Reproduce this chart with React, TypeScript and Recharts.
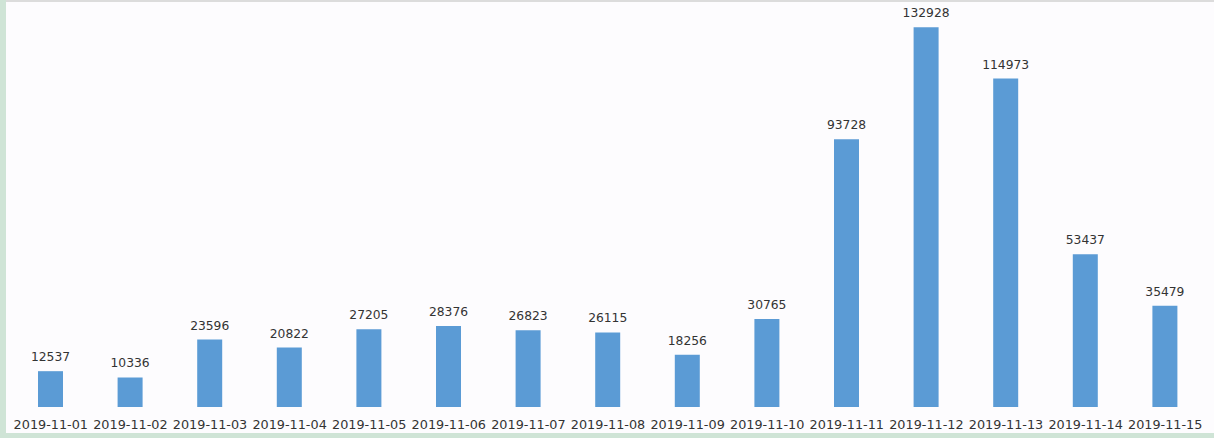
import React from "react";
import { BarChart, Bar, XAxis, YAxis, LabelList } from "recharts";

const dates = [
  "2019-11-01", "2019-11-02", "2019-11-03", "2019-11-04", "2019-11-05",
  "2019-11-06", "2019-11-07", "2019-11-08", "2019-11-09", "2019-11-10",
  "2019-11-11", "2019-11-12", "2019-11-13", "2019-11-14", "2019-11-15",
];
const counts = [
  12537, 10336, 23596, 20822, 27205, 28376, 26823, 26115, 18256, 30765,
  93728, 132928, 114973, 53437, 35479,
];

const data = dates.map((d, i) => ({ date: d, value: counts[i] }));

export default function App() {
  return (
    <div
      style={{
        position: "absolute",
        left: 0,
        top: 0,
        width: 1214,
        height: 438,
        background: "#fdfcfe",
        overflow: "hidden",
        fontFamily: "'DejaVu Sans', sans-serif",
      }}
    >
      <div style={{ position: "absolute", left: 0, top: 0, width: 6, height: 438, background: "#cfe4d6" }} />
      <div style={{ position: "absolute", left: 0, top: 433, width: 1214, height: 5, background: "#cfe4d6" }} />
      <div style={{ position: "absolute", left: 6, top: 0, width: 1208, height: 2, background: "#dcdcdc" }} />
      <div style={{ position: "absolute", left: 0, top: 0 }}>
        <BarChart
          width={1214}
          height={438}
          data={data}
          margin={{ top: 7, right: 9, bottom: 7, left: 11 }}
        >
          <XAxis
            dataKey="date"
            axisLine={false}
            tickLine={false}
            interval={0}
            height={24}
            tickSize={4}
            tickMargin={9}
            tick={{ fill: "#333333", fontSize: 12.8, fontFamily: "'DejaVu Sans', sans-serif" }}
          />
          <YAxis hide domain={[0, 140000]} />
          <Bar dataKey="value" fill="#5b9bd5" barSize={25} isAnimationActive={false}>
            <LabelList
              dataKey="value"
              position="top"
              offset={10}
              fill="#333333"
              fontSize={12.3}
              fontFamily="'DejaVu Sans', sans-serif"
            />
          </Bar>
        </BarChart>
      </div>
    </div>
  );
}
